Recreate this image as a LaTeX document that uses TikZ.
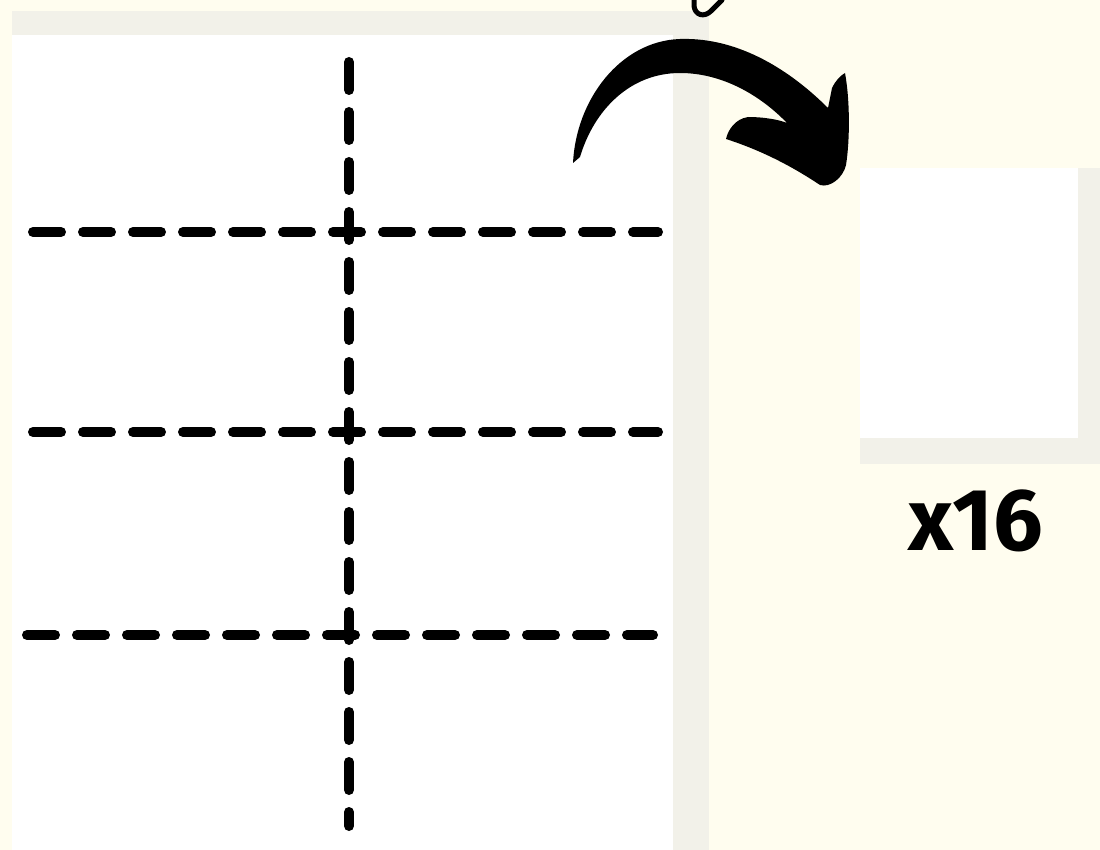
\documentclass[tikz,border=0pt]{standalone}
\usepackage{fontspec}
\newfontfamily\handfont{Fira Sans}
\definecolor{cream}{HTML}{FFFDEF}
\definecolor{sheetgray}{HTML}{F2F1E9}
\begin{document}
\begin{tikzpicture}[x=1pt,y=-1pt,
  cutline/.style={line width=10pt,line cap=round,dash pattern=on 28pt off 22pt},
  inkstroke/.style={line width=5pt,line cap=round,line join=round}]
\useasboundingbox (0,0) rectangle (1100,850);
\fill[cream] (0,0) rectangle (1100,850);
% big sheet with shadow
\fill[sheetgray] (12,11) rectangle (709,850);
\fill[white] (12,35) rectangle (673,850);
% small sheet with shadow
\fill[sheetgray] (860,168) rectangle (1100,464);
\fill[white] (860,168) rectangle (1078,438);
% cut lines
\draw[cutline] (349,62) -- (349,826);
\draw[cutline] (33,232) -- (658,232);
\draw[cutline] (33,432) -- (658,432);
\draw[cutline] (27,635) -- (653,635);
% cut-off letter at top
\draw[inkstroke] (694,0) -- (694,6) .. controls (695,15) and (704,18) .. (711,11) .. controls (715,7) and (719,3) .. (722,0);
% curved arrow
\fill[black] (573,163) .. controls (576,100) and (620,41) .. (680,39)
  .. controls (740,37) and (792,72) .. (828,108)
  -- (832,88) .. controls (836,80) and (840,76) .. (845,73)
  .. controls (850,100) and (850,140) .. (846,165)
  .. controls (843,178) and (830,188) .. (820,185)
  .. controls (790,165) and (760,150) .. (726,139)
  .. controls (728,130) and (735,119) .. (748,117)
  .. controls (765,117) and (780,120) .. (787,123)
  .. controls (760,95) and (722,73) .. (680,73)
  .. controls (630,73) and (594,110) .. (580,157) -- cycle;
\node[font=\handfont\bfseries\fontsize{88}{88}\selectfont,anchor=base] (count) at (976,550) {x16};
\end{tikzpicture}
\end{document}
